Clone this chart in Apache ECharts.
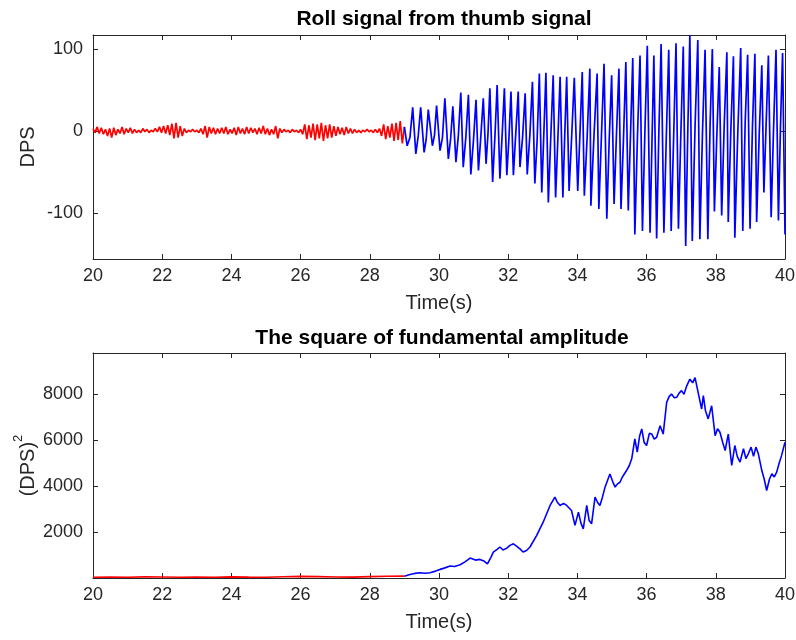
<!DOCTYPE html>
<html><head><meta charset="utf-8">
<script src="https://cdn.jsdelivr.net/npm/echarts@6/dist/echarts.min.js"></script>
<style>html,body{margin:0;padding:0;background:#fff}#c{width:796px;height:640px}</style>
</head><body><div id="c"></div>
<script>
// ---------- data ----------
const xTicks = [20,22,24,26,28,30,32,34,36,38,40];
const rollYTicks = [-100,0,100];
const sqYTicks = [2000,4000,6000,8000];

// Top plot, red part: samples every 0.06 s from 20.00 s to 29.00 s (DPS)
const redRollStart = 20, redRollStep = 0.06;
const redRoll = [
  3,-2,5,-3,4,-4,2,-6,3,-8,
  4,-5,2,-3,5,-4,3,-2,4,-3,
  2,-2,1,-2,3,-1,2,-2,1,-1,
  3,-1,5,-2,6,-3,7,-5,9,-9,
  10,-8,6,-6,3,-2,1,-1,2,-1,
  1,-2,3,-4,6,-8,5,-3,4,-4,
  3,-3,4,-3,5,-4,2,-3,4,-5,
  5,-3,3,-4,5,-3,4,-2,3,-4,
  4,-3,6,-4,3,-5,2,-4,6,-9,
  3,-2,2,-1,1,-2,2,-1,1,-2,
  2,-4,8,-10,7,-8,9,-11,8,-9,
  10,-12,7,-9,8,-8,6,-6,5,-4,
  4,-5,5,-3,3,-3,2,-2,1,-2,
  1,-1,2,-1,1,-2,2,-2,3,-6,
  8,-10,6,-8,9,-12,10,-11,12,-15,
  5
];

// Top plot, blue part: start point, troughs, near-zero plateaus, peaks (DPS)
const blueStart = [29.0, 5];
const troughT = [29.08,29.33,29.57,29.81,30.03,30.27,30.49,30.70,30.92,31.14,31.36,31.55,31.76,31.96,32.15,32.34,32.55,32.77,32.97,33.16,33.37,33.58,33.76,34.01,34.20,34.39,34.62,34.85,35.06,35.26,35.47,35.66,35.88,36.10,36.29,36.50,36.71,36.92,37.13,37.32,37.54,37.77,37.96,38.17,38.36,38.55,38.78,38.99,39.18,39.39,39.60,39.81,40.00];
const troughV = [-18,-28,-26,-18,-24,-34,-38,-44,-53,-48,-40,-62,-58,-54,-54,-44,-53,-64,-75,-87,-81,-81,-73,-73,-79,-91,-95,-107,-89,-95,-97,-126,-122,-124,-131,-124,-122,-119,-140,-134,-132,-132,-98,-103,-111,-130,-122,-119,-111,-75,-105,-109,-126];
const peakT = [29.24,29.47,29.69,29.93,30.17,30.40,30.63,30.85,31.07,31.28,31.47,31.68,31.89,32.08,32.29,32.49,32.70,32.90,33.09,33.30,33.50,33.69,33.91,34.14,34.36,34.57,34.77,34.99,35.20,35.40,35.60,35.81,36.02,36.21,36.42,36.64,36.85,37.06,37.25,37.48,37.69,37.90,38.10,38.32,38.51,38.72,38.92,39.13,39.33,39.52,39.74,39.93];
const peakV = [29,29,26,31,40,30,47,44,38,40,52,56,52,48,48,46,60,70,71,68,66,66,65,72,76,70,82,68,76,84,89,92,104,92,106,99,107,103,117,111,99,100,78,96,91,101,93,94,80,92,99,95];
const plateauV = [-8,-6,-10,-5,-8,-10,-5,-8,-12,-6,-4,-8,
  -5,-10,-2,-8,-6,-12,-3,-8,-10,-4,-6,-2,-9,-5,
  -6,-10,-3,-12,-4,-8,-2,-14,0,-6,-10,-3,-1,
  5,-2,8,-5,10,2,-3,12,6,-4,9,4,7];

// Bottom plot: square of fundamental amplitude (DPS^2)
const redSqT = [20,20.5,21,21.5,22,22.5,23,23.5,24,24.5,25,25.5,26,26.5,27,27.5,28,28.5,29];
const redSqV = [30,40,35,50,45,30,40,35,50,40,35,55,70,60,45,40,60,75,80];
const blueSqT = [29.0,29.16,29.3,29.45,29.6,29.74,29.9,30.03,30.15,30.32,30.45,30.61,30.75,30.9,31.05,31.18,31.3,31.4,31.5,31.57,31.68,31.76,31.85,31.96,32.05,32.15,32.25,32.34,32.43,32.53,32.63,32.82,33.01,33.21,33.35,33.42,33.5,33.6,33.69,33.76,33.83,33.93,34.03,34.1,34.17,34.27,34.34,34.41,34.51,34.58,34.65,34.72,34.8,34.94,35.02,35.09,35.16,35.23,35.3,35.42,35.5,35.57,35.66,35.73,35.8,35.86,35.93,36.0,36.08,36.15,36.22,36.29,36.39,36.48,36.58,36.65,36.72,36.8,36.87,36.94,37.01,37.08,37.16,37.25,37.33,37.4,37.5,37.59,37.64,37.7,37.78,37.88,37.98,38.05,38.12,38.2,38.27,38.36,38.46,38.55,38.62,38.7,38.8,38.87,38.94,39.02,39.09,39.16,39.23,39.33,39.4,39.47,39.55,39.62,39.69,39.76,39.83,39.9,40.0];
const blueSqV = [80,150,200,230,210,230,300,375,430,520,500,580,700,870,780,810,740,620,900,1130,1250,1350,1220,1300,1420,1490,1380,1270,1130,1200,1350,1850,2430,3160,3520,3300,3160,3250,3160,3050,2940,2290,2870,2400,2140,3160,2500,2360,3520,3300,3160,3500,3960,4530,4200,3960,4100,4170,4400,4680,4900,5190,6060,5480,6200,6490,5900,5770,6300,6270,6050,6130,6630,6270,7650,7900,8010,7850,7870,8050,8160,8000,8370,8660,8500,8730,8010,7360,7940,7300,6930,7500,6200,6500,6350,5900,5550,6270,4900,5770,5300,5050,5630,5200,5410,5700,5300,5700,5410,4680,4300,3810,4300,4540,4400,4610,5000,5330,5910];

// ---------- build series data ----------
const redRollData = redRoll.map((v,i)=>[+(redRollStart + i*redRollStep).toFixed(3), v]);
const blueRollData = [blueStart];
for (let i = 0; i < troughT.length; i++) {
  blueRollData.push([troughT[i], troughV[i]]);
  if (i < peakT.length) {
    blueRollData.push([(troughT[i] + peakT[i]) / 2, plateauV[i]]);
    blueRollData.push([peakT[i], peakV[i]]);
  }
}
const redSqData = redSqT.map((t,i)=>[t, redSqV[i]]);
const blueSqData = blueSqT.map((t,i)=>[t, blueSqV[i]]);

// ---------- chart ----------
const FONT = "'Liberation Sans', Arial, sans-serif";
const AX = '#262626';
function xAx(grid, pos, withLabels) {
  return {
    gridIndex: grid, type: 'value', min: 20, max: 40, interval: 2, position: pos,
    axisLine: { onZero: false, lineStyle: { color: AX, width: 1 } },
    axisTick: { inside: true, length: 5, customValues: xTicks, lineStyle: { color: AX } },
    axisLabel: { show: withLabels, customValues: xTicks, formatter: v => String(v), color: AX, fontSize: 18, fontFamily: FONT, margin: 8 },
    splitLine: { show: false },
    name: withLabels ? 'Time(s)' : '', nameLocation: 'middle', nameGap: 34,
    nameTextStyle: { color: AX, fontSize: 20, fontFamily: FONT }
  };
}
function yAx(grid, pos, withLabels, min, max, ticks, name, nameGap, rich) {
  return {
    gridIndex: grid, type: 'value', min: min, max: max, position: pos,
    axisLine: { onZero: false, lineStyle: { color: AX, width: 1 } },
    axisTick: { inside: true, length: 5, customValues: ticks, lineStyle: { color: AX } },
    axisLabel: { show: withLabels, customValues: ticks, formatter: v => String(v), color: AX, fontSize: 18, fontFamily: FONT, margin: 10 },
    splitLine: { show: false },
    name: withLabels ? name : '', nameLocation: 'middle', nameGap: nameGap, nameRotate: 90,
    nameMoveOverlap: false,
    nameTextStyle: Object.assign({ color: AX, fontSize: 20, fontFamily: FONT }, rich ? { rich: rich } : {})
  };
}

const chart = echarts.init(document.getElementById('c'), null, { renderer: 'canvas' });
chart.setOption({
  animation: false,
  backgroundColor: '#fff',
  grid: [
    { left: 93, top: 35, width: 692, height: 224, containLabel: false, outerBoundsMode: 'none' },
    { left: 93, top: 353, width: 692, height: 225, containLabel: false, outerBoundsMode: 'none' }
  ],
  graphic: [
    { type: 'text', x: 444, y: 19, style: { text: 'Roll signal from thumb signal', fontSize: 21, fontWeight: 'bold', fontFamily: FONT, fill: '#000', align: 'center', verticalAlign: 'middle', textAlign: 'center', textVerticalAlign: 'middle' } },
    { type: 'text', x: 442, y: 338, style: { text: 'The square of fundamental amplitude', fontSize: 21, fontWeight: 'bold', fontFamily: FONT, fill: '#000', align: 'center', verticalAlign: 'middle', textAlign: 'center', textVerticalAlign: 'middle' } }
  ],
  xAxis: [ xAx(0,'bottom',true), xAx(0,'top',false), xAx(1,'bottom',true), xAx(1,'top',false) ],
  yAxis: [
    yAx(0,'left',true,-156,117,rollYTicks,'DPS',55),
    yAx(0,'right',false,-156,117,rollYTicks,'',0),
    yAx(1,'left',true,0,9800,sqYTicks,'{b|(DPS)}{s|2}',55,
        { b: { fontSize: 20, fontFamily: FONT, color: AX, lineHeight: 26, verticalAlign: 'bottom' },
          s: { fontSize: 13, fontFamily: FONT, color: AX, lineHeight: 26, verticalAlign: 'top' } }),
    yAx(1,'right',false,0,9800,sqYTicks,'',0)
  ],
  series: [
    { type: 'line', xAxisIndex: 0, yAxisIndex: 0, data: redRollData, showSymbol: false, lineStyle: { color: '#ff0000', width: 1.7 }, itemStyle: { color: '#ff0000' } },
    { type: 'line', xAxisIndex: 0, yAxisIndex: 0, data: blueRollData, showSymbol: false, lineStyle: { color: '#0000ff', width: 1.7 }, itemStyle: { color: '#0000ff' } },
    { type: 'line', xAxisIndex: 2, yAxisIndex: 2, data: redSqData, showSymbol: false, lineStyle: { color: '#ff0000', width: 1.6 }, itemStyle: { color: '#ff0000' } },
    { type: 'line', xAxisIndex: 2, yAxisIndex: 2, data: blueSqData, showSymbol: false, lineStyle: { color: '#0000ff', width: 1.6 }, itemStyle: { color: '#0000ff' } }
  ]
});
</script></body></html>
